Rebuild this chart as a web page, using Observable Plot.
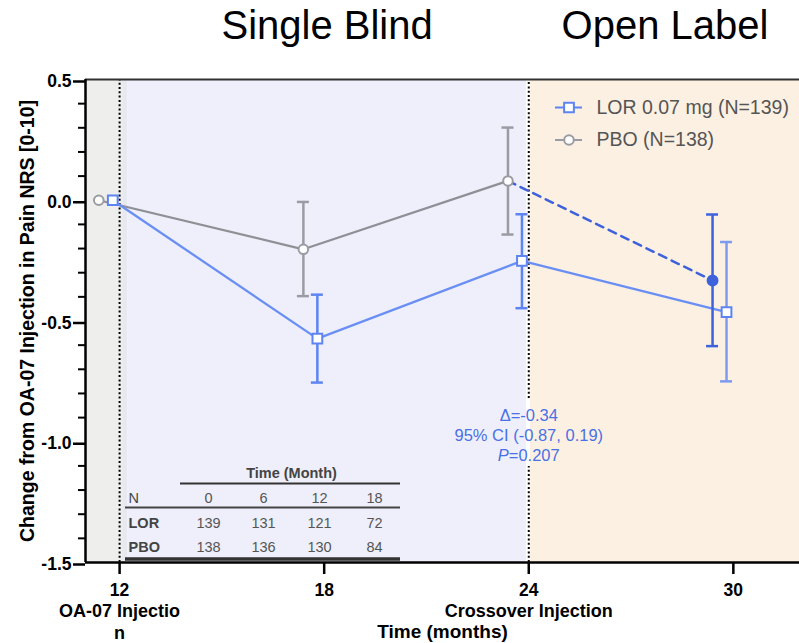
<!DOCTYPE html>
<html><head><meta charset="utf-8">
<script src="https://cdn.jsdelivr.net/npm/d3@7"></script>
<script src="https://cdn.jsdelivr.net/npm/@observablehq/plot@0.6"></script>
<style>body{margin:0;background:#fff}#chart svg{display:block}</style>
</head><body><div id="chart"></div>
<script>
// ---- data ----
const months = [12, 18, 24, 30];
const lorMean = [0, -0.573, -0.251, -0.463];
const lorLo   = [null, -0.755, -0.447, -0.750];
const lorHi   = [null, -0.391, -0.058, -0.173];
const pboMonths = [12, 18, 24];
const pboMean = [0, -0.203, 0.080];
const pboLo   = [null, -0.397, -0.142];
const pboHi   = [null, -0.007, 0.301];
const crossMonth = 30;
const crossMean = -0.332, crossLo = -0.604, crossHi = -0.059;
const seriesLabels = ["LOR 0.07 mg (N=139)", "PBO (N=138)"];
const phaseTitles = ["Single Blind", "Open Label"];
const phaseBounds = [[11, 12.09], [12.09, 12.24], [12.24, 23.93], [24.05, 31.94]];
const tableHeader = "Time (Month)";
const tableMonths = ["0", "6", "12", "18"];
const tableLOR = [139, 131, 121, 72];
const tablePBO = [138, 136, 130, 84];
const annoLines = ["Δ=-0.34", "95% CI (-0.87, 0.19)"];
const annoP = ["P", "=0.207"];
const yTicks = [-1.5, -1, -0.5, 0, 0.5];
const xTicks = [12, 18, 24, 30];
const xSubLabels = [{x: 12, t: "OA-07 Injectio\nn"}, {x: 24, t: "Crossover Injection"}];

// ---- layout ----
const W = 799, H = 643, ML = 85, MR = 0, MT = 79, MB = 81;
const xDom = [11, 31.94], yDom = [-1.5, 0.5];
const kx = (xDom[1] - xDom[0]) / (W - ML - MR);
const ky = (yDom[1] - yDom[0]) / (H - MT - MB);
const fx = px => xDom[0] + (px - ML) * kx;
const fy = py => yDom[1] - (py - MT) * ky;
const FONT = "'Liberation Sans', Arial, Helvetica, sans-serif";

const BLUE = "#5d84f2", BLUE_LINE = "#6a8ff4", BLUE_LIGHT = "#7c9bf0", BLUE_DARK = "#3d62dc";
const GRAY = "#9b9ba3", GRAY_LINE = "#8f8f96";
const phaseFills = ["#eeefed", "#e7e9f1", "#eeeffa", "#fcf0e3"];

const LOR_DX = -0.2, PBO_DX = -0.61;
const capHalf = 6 * kx;

const lorPts = months.map((m, i) => ({x: m + LOR_DX, y: lorMean[i], lo: lorLo[i], hi: lorHi[i], m}));
const pboPts = pboMonths.map((m, i) => ({x: m + PBO_DX, y: pboMean[i], lo: pboLo[i], hi: pboHi[i], m}));
const crossPts = [{x: crossMonth + PBO_DX, y: crossMean, lo: crossLo, hi: crossHi}];
const dashPts = [pboPts[pboPts.length - 1], crossPts[0]];

const phases = phaseBounds.map((b, i) => ({x1: b[0], x2: b[1], fill: phaseFills[i]}));
const titlePhases = [phases[2], phases[3]].map((p, i) => ({x: (p.x1 + p.x2) / 2, t: phaseTitles[i]}));

// dotted guide lines (the one at 24 is interrupted behind the annotation)
const guides = [
  {x: 12, y1: yDom[0], y2: yDom[1]},
  {x: 24, y1: fy(398), y2: yDom[1]},
  {x: 24, y1: yDom[0], y2: fy(466)}
];

function errMarks(pts, stroke, width) {
  const e = pts.filter(d => d.lo != null);
  return [
    Plot.ruleX(e, {x: "x", y1: "lo", y2: "hi", stroke, strokeWidth: width}),
    Plot.ruleY(e, {y: "lo", x1: d => d.x - capHalf, x2: d => d.x + capHalf, stroke, strokeWidth: width}),
    Plot.ruleY(e, {y: "hi", x1: d => d.x - capHalf, x2: d => d.x + capHalf, stroke, strokeWidth: width})
  ];
}

// table
const colX = [208, 263, 319, 374].map(fx);
const rowLabelX = fx(128);
const tableRows = [
  {label: "N", vals: tableMonths, y: fy(502), bold: false},
  {label: "LOR", vals: tableLOR, y: fy(527.5), bold: true},
  {label: "PBO", vals: tablePBO, y: fy(551.5), bold: true}
];
const tableCells = tableRows.flatMap(r => r.vals.map((v, j) => ({x: colX[j], y: r.y, t: String(v)})));
const tableLabels = tableRows.map(r => ({x: rowLabelX, y: r.y, t: r.label, bold: r.bold}));

const legendRows = seriesLabels.map((label, i) => ({label, y: fy([107, 139.5][i])}));
const legX1 = fx(555), legX2 = fx(582), legXm = fx(568.5), legXt = fx(596);

const minorTicks = d3.range(-15, 6).map(i => i / 10).filter(v => !yTicks.some(t => Math.abs(t - v) < 1e-9));

const chart = Plot.plot({
  width: W, height: H,
  marginLeft: ML, marginRight: MR, marginTop: MT, marginBottom: MB,
  style: {fontFamily: FONT, background: "white", overflow: "visible"},
  x: {domain: xDom, label: null},
  y: {domain: yDom, label: null},
  marks: [
    Plot.rect(phases, {x1: "x1", x2: "x2", y1: yDom[0], y2: yDom[1], fill: "fill"}),
    Plot.ruleX(guides, {x: "x", y1: "y1", y2: "y2", stroke: "black", strokeWidth: 2, strokeDasharray: "2,2.3"}),
    Plot.ruleY([yDom[1]], {stroke: "#333", strokeWidth: 2}),

    // table
    Plot.text([tableHeader], {x: fx(291), y: fy(477), lineAnchor: "bottom", fontSize: 14.5, fontWeight: "bold", fill: "#444", letterSpacing: "0.3px"}),
    Plot.ruleY([fy(483)], {x1: fx(180), x2: fx(400), stroke: "#333", strokeWidth: 2}),
    Plot.ruleY([fy(507)], {x1: fx(125), x2: fx(400), stroke: "#444", strokeWidth: 2}),
    Plot.ruleY([fy(558.5)], {x1: fx(125), x2: fx(400), stroke: "#333", strokeWidth: 3.5}),
    Plot.text(tableCells, {x: "x", y: "y", text: "t", lineAnchor: "bottom", fontSize: 14.5, fill: "#555"}),
    Plot.text(tableLabels.filter(d => !d.bold), {x: "x", y: "y", text: "t", textAnchor: "start", lineAnchor: "bottom", fontSize: 14.5, fill: "#444"}),
    Plot.text(tableLabels.filter(d => d.bold), {x: "x", y: "y", text: "t", textAnchor: "start", lineAnchor: "bottom", fontSize: 14.5, fontWeight: "bold", fill: "#444"}),

    // annotation
    Plot.text(annoLines, {x: 24, y: (d, i) => fy([420, 440][i]), lineAnchor: "bottom", fontSize: 16.5, fill: "#4a70e6"}),
    Plot.text([annoP[0]], {x: 24, y: fy(460), dx: -20, textAnchor: "end", lineAnchor: "bottom", fontSize: 16.5, fontStyle: "italic", fill: "#4a70e6"}),
    Plot.text([annoP[1]], {x: 24, y: fy(460), dx: -20, textAnchor: "start", lineAnchor: "bottom", fontSize: 16.5, fill: "#4a70e6"}),

    // lines
    Plot.line(pboPts, {x: "x", y: "y", stroke: GRAY_LINE, strokeWidth: 2.3}),
    Plot.line(lorPts, {x: "x", y: "y", stroke: BLUE_LINE, strokeWidth: 2.3}),
    Plot.line(dashPts, {x: "x", y: "y", stroke: BLUE_DARK, strokeWidth: 2.5, strokeDasharray: "8,6"}),

    // error bars
    ...errMarks(pboPts, GRAY, 2.5),
    ...errMarks(lorPts.filter(d => d.m < 30), BLUE, 2.5),
    ...errMarks(lorPts.filter(d => d.m >= 30), BLUE_LIGHT, 2.5),
    ...errMarks(crossPts, BLUE_DARK, 2.5),

    // markers
    Plot.dot(pboPts, {x: "x", y: "y", r: 4.8, fill: "white", stroke: GRAY, strokeWidth: 2}),
    Plot.dot(lorPts, {x: "x", y: "y", r: 5.5, symbol: "square", fill: "white", stroke: BLUE, strokeWidth: 2}),
    Plot.dot(crossPts, {x: "x", y: "y", r: 5.2, fill: BLUE_DARK, stroke: BLUE_DARK}),

    // legend
    Plot.ruleY([legendRows[0]], {y: "y", x1: legX1, x2: legX2, stroke: BLUE, strokeWidth: 2}),
    Plot.ruleY([legendRows[1]], {y: "y", x1: legX1, x2: legX2, stroke: GRAY, strokeWidth: 2}),
    Plot.dot([legendRows[0]], {x: legXm, y: "y", r: 5.5, symbol: "square", fill: "white", stroke: BLUE, strokeWidth: 2}),
    Plot.dot([legendRows[1]], {x: legXm, y: "y", r: 4.8, fill: "white", stroke: GRAY, strokeWidth: 2}),
    Plot.text(legendRows, {x: legXt, y: "y", text: "label", textAnchor: "start", fontSize: 19.5, fill: "#555"}),

    // phase titles
    Plot.text(titlePhases, {x: "x", text: "t", frameAnchor: "top", lineAnchor: "bottom", dy: -40.3, fontSize: 40, fill: "black"}),

    // axes
    Plot.ruleX([xDom[0]], {stroke: "black", strokeWidth: 2.5}),
    Plot.ruleY([yDom[0]], {stroke: "black", strokeWidth: 2.5}),
    Plot.axisY(yTicks, {anchor: "left", tickSize: 12, tickPadding: 2, tickFormat: d => d.toFixed(1), fontSize: 17.5, fontWeight: "bold", strokeWidth: 2.5, dy: 2, label: null}),
    Plot.axisY(minorTicks, {anchor: "left", tickSize: 7, tickFormat: () => "", strokeWidth: 2, label: null}),
    Plot.axisX(xTicks, {anchor: "bottom", tickSize: 12, tickPadding: 8.6, fontSize: 17.5, fontWeight: "bold", strokeWidth: 2.5, label: null}),
    Plot.text(xSubLabels, {x: "x", text: "t", frameAnchor: "bottom", lineAnchor: "top", dy: 39.2, lineHeight: 1.22, fontSize: 18, fontWeight: "bold", fill: "black"}),
    Plot.text(["Time (months)"], {frameAnchor: "bottom", textAnchor: "middle", lineAnchor: "bottom", dy: 75, fontSize: 19, fontWeight: "bold", fill: "black"}),
    Plot.text(["Change from OA-07 Injection in Pain NRS [0-10]"], {frameAnchor: "left", textAnchor: "middle", rotate: -90, dx: -52, lineAnchor: "bottom", fontSize: 19.5, fontWeight: "bold", fill: "black"})
  ]
});
document.getElementById("chart").appendChild(chart);
</script>
</body></html>
